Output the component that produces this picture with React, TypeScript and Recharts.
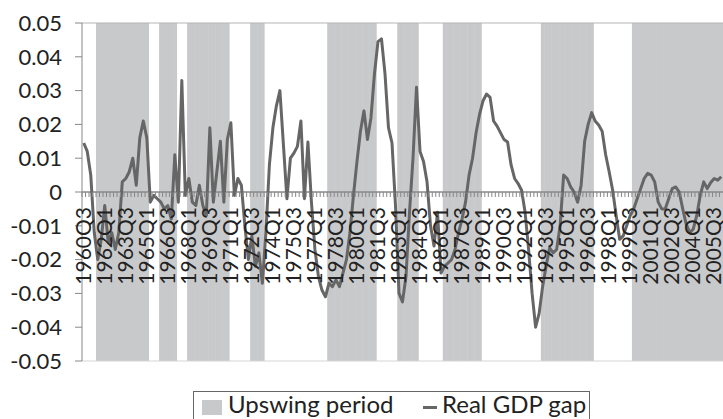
import { ComposedChart, Bar, Line, XAxis, YAxis, ReferenceLine } from "recharts"

// real GDP gap, quarterly
const gap1960s = [
  0.0145, 0.012, 0.005, -0.012, -0.02, -0.014, -0.004, -0.015, -0.012, -0.017,
  -0.012, 0.003, 0.004, 0.006, 0.01, 0.002, 0.016, 0.021, 0.016, -0.003,
  -0.001, -0.002, -0.003, -0.005, -0.004, -0.008, 0.011, -0.003, 0.033, -0.001,
  0.004, -0.003, -0.004, 0.002, -0.004, -0.007, 0.019, -0.003,
]
const gap1970s = [
  0.006, 0.015, -0.003, 0.0155, 0.0205, -0.001, 0.004, 0.002, -0.01, -0.02,
  -0.013, -0.022, -0.018, -0.027, -0.012, 0.008, 0.019, 0.0255, 0.03, 0.014,
  -0.002, 0.01, 0.0115, 0.0135, 0.021, -0.002, 0.0148, -0.003, -0.017, -0.025,
  -0.029, -0.031, -0.027, -0.028, -0.026, -0.028, -0.024, -0.02, -0.012, -0.001,
]
const gap1980s = [
  0.009, 0.018, 0.024, 0.0155, 0.022, 0.035, 0.0445, 0.0453, 0.035, 0.019,
  0.0145, -0.004, -0.03, -0.0325, -0.025, -0.006, 0.01, 0.031, 0.012, 0.009,
  0.003, -0.01, -0.016, -0.006, -0.024, -0.022, -0.021, -0.02, -0.017, -0.012,
  -0.008, -0.003, 0.005, 0.01, 0.0175, 0.023, 0.027, 0.029, 0.028, 0.021,
]
const gap1990s = [
  0.0195, 0.0175, 0.0155, 0.0148, 0.008, 0.004, 0.0025, 0.0005, -0.006, -0.017,
  -0.03, -0.04, -0.036, -0.028, -0.022, -0.0165, -0.018, -0.017, -0.01, 0.005,
  0.004, 0.0015, 0, -0.003, 0.002, 0.015, 0.02, 0.0235, 0.021, 0.0198,
  0.018, 0.011, 0.006, 0.0005, -0.007, -0.014, -0.013, -0.01, -0.007, -0.005,
]
const gap2000s = [
  -0.002, 0.001, 0.004, 0.0055, 0.005, 0.003, -0.003, -0.005, -0.005, -0.002,
  0.001, 0.0015, 0, -0.005, -0.0095, -0.012, -0.011, -0.007, -0.001, 0.003,
  0.001, 0.0028, 0.004, 0.0035, 0.0045,
]

// shaded upswing periods (first and last quarter)
const upswingPeriods: [string, string][] = [
  ["1961Q3", "1965Q1"],
  ["1966Q1", "1967Q1"],
  ["1968Q1", "1970Q4"],
  ["1972Q3", "1973Q2"],
  ["1978Q1", "1981Q2"],
  ["1983Q1", "1984Q2"],
  ["1986Q2", "1988Q4"],
  ["1993Q2", "1996Q4"],
  ["1999Q4", "2006Q1"],
]

const yTicks = [-0.05, -0.04, -0.03, -0.02, -0.01, 0, 0.01, 0.02, 0.03, 0.04, 0.05]

const quarters: string[] = []
for (let yr = 1960; yr <= 2006; yr++) {
  for (let q = 1; q <= 4; q++) {
    if (yr === 1960 && q < 3) continue
    if (yr === 2006 && q > 1) continue
    quarters.push(`${yr}Q${q}`)
  }
}

const gdpGap = [...gap1960s, ...gap1970s, ...gap1980s, ...gap1990s, ...gap2000s]

const inUpswing = (i: number) =>
  upswingPeriods.some(([a, b]) => i >= quarters.indexOf(a) && i <= quarters.indexOf(b))

const data = quarters.map((name, i) => ({
  name,
  gap: gdpGap[i],
  upswing: inUpswing(i) ? [-0.05, 0.05] : null,
}))

const W = 723
const H = 419
const LEFT = 82
const TOP = 23
const BOTTOM = 361
const PLOT_H = BOTTOM - TOP
const BAND = (W - LEFT) / quarters.length
const FONT = "Lato, 'Open Sans', sans-serif"

// x axis sits on the zero line, so shift ticks up from the bottom of the plot
const QuarterTick = (props: any) => {
  const { x, y, payload, index } = props
  const y0 = y - PLOT_H / 2
  const i = index ?? payload.index
  return (
    <g>
      <line x1={x - BAND / 2} x2={x - BAND / 2} y1={y0} y2={y0 + 5} stroke="#888" strokeWidth={1} />
      {i % 6 === 0 && (
        <text
          transform={`translate(${x - 0.5},${y0 + 15}) rotate(-90)`}
          textAnchor="end"
          dy="0.36em"
          fontSize={21}
          fontFamily={FONT}
          fill="#222"
        >
          {payload.value}
        </text>
      )}
    </g>
  )
}

export default function App() {
  return (
    <div style={{ position: "absolute", left: 0, top: 0, width: W, height: H, overflow: "hidden", background: "#fff" }}>
      <ComposedChart
        width={W}
        height={H}
        data={data}
        margin={{ top: TOP, right: 0, left: 0, bottom: 0 }}
        barCategoryGap={0}
        barGap={0}
      >
        <XAxis
          dataKey="name"
          interval={0}
          tickLine={false}
          axisLine={false}
          tickSize={0}
          tickMargin={0}
          height={H - BOTTOM}
          tick={QuarterTick}
        />
        <YAxis
          domain={[-0.05, 0.05]}
          ticks={yTicks}
          interval={0}
          width={LEFT}
          allowDataOverflow
          tickFormatter={(v: number) => (v === 0 ? "0" : v.toFixed(2))}
          tick={{ fontSize: 22, fill: "#222", fontFamily: FONT }}
          axisLine={{ stroke: "#888" }}
          tickLine={{ stroke: "#888" }}
          tickSize={7}
          tickMargin={13}
        />
        <ReferenceLine y={0.05} stroke="#b5b5b5" />
        <ReferenceLine y={-0.05} stroke="#d5d5d5" />
        <Bar dataKey="upswing" fill="#c8c9cb" isAnimationActive={false} />
        <ReferenceLine y={0} stroke="#888" strokeWidth={1.5} />
        <Line
          type="linear"
          dataKey="gap"
          stroke="#666"
          strokeWidth={3}
          dot={false}
          strokeLinejoin="round"
          isAnimationActive={false}
        />
      </ComposedChart>
      <div
        style={{
          position: "absolute",
          left: 193,
          top: 391,
          width: 397,
          height: 60,
          border: "1px solid #666",
          boxSizing: "border-box",
          fontFamily: FONT,
          fontSize: 24,
          color: "#222",
        }}
      >
        <span style={{ position: "absolute", left: 8, top: 8, width: 20, height: 15, background: "#c8c9cb" }} />
        <span style={{ position: "absolute", left: 34, top: -3, lineHeight: "30px" }}>Upswing period</span>
        <span style={{ position: "absolute", left: 229, top: 14, width: 14, height: 3, background: "#666" }} />
        <span style={{ position: "absolute", left: 248, top: -3, lineHeight: "30px" }}>Real GDP gap</span>
      </div>
    </div>
  )
}
